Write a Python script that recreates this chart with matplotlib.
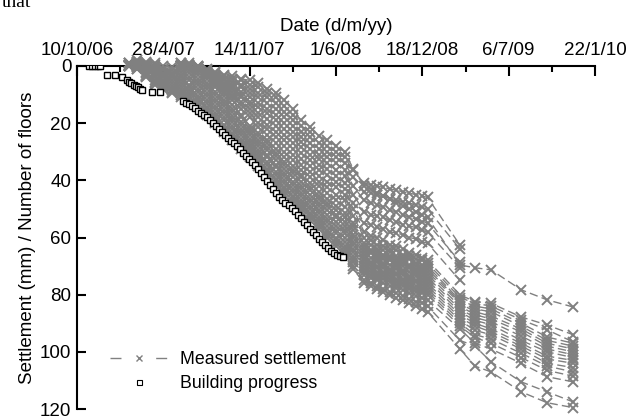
import datetime as dt
import numpy as np
import matplotlib
matplotlib.use('Agg')
import matplotlib.pyplot as plt
from matplotlib.lines import Line2D

plt.rcParams['font.family'] = ['Liberation Sans', 'DejaVu Sans']

# x values are days counted from 10/10/06
start = dt.date(2006, 10, 10)
tick_days = [0, 200, 400, 600, 800, 1000, 1200]
minor_days = [100, 300, 500, 700, 900, 1100]
y_ticks = [0, 20, 40, 60, 80, 100, 120]

# survey dates of the settlement points (days from 10/10/06)
survey_days = [120, 140, 160, 180, 200, 220, 240, 260, 280, 300, 320, 340, 360,
               380, 400, 420, 440, 460, 480, 500, 520, 540, 560, 580, 600, 620, 640,
               665, 680, 695, 710, 725, 740, 755, 770, 785, 800, 812,
               887, 922, 959, 1029, 1089, 1149]

N = None
# settlement (mm) of each point at the survey dates
s01 = [N, N, N, N, N, N, 0, -1, 0, 1, 2, 3, 3.5, 4.5, 5, 6, 8, 9.5, 12, 15, 19, 21.5, 24.5, 26, 28, 30, 36,
       42, 43, 44.5, 45.5, 46.5, 48, 49, 50, 51, 52, 53, 69.6, 70.6, 71.3, 78.3, 81.8, 84.3]
s02 = [N, N, N, N, N, N, 0, -0.5, 0, 1.5, 2.5, 3.5, 4.5, 5, 6.5, 7.5, 9.5, 11, 14, 17, 21, 23, 27, 28, 30, 32, 36.5,
       41, 41.5, 42, 42.5, 43, 43.5, 44, 44.5, 45, 45.5, 46, 62.6, N, N, N, N, N]
s03 = [N, N, N, N, N, N, -1, -0.5, 0.5, 1.5, 3, 4.5, 5.5, 6.5, 8, 9.5, 11, 13, 16, 19, 23, 25, 29, 30, 32, 34, 39,
       44, 44.5, 45, 45.5, 46.5, 47, 47.5, 48, 48.5, 49.5, 50, 64, N, N, N, N, N]
s04 = [N, N, N, N, N, N, 0, 0, 0.5, 2, 3.5, 5, 6.5, 7.5, 9.5, 11, 13, 15, 18, 21, 25, 27, 31, 32, 34, 36.5, 42,
       47, 48, 48.5, 49.5, 50.5, 51, 52, 53, 53.5, 54.5, 55, 68.5, N, N, N, N, N]
s05 = [N, N, N, N, N, N, 0, 0, 0.5, 2, 4, 6, 7.5, 9, 11, 13, 15, 17, 20, 23, 26.5, 29, 32.5, 34, 36.5, 38.5, 45,
       51, 52, 52.5, 53, 54, 54.5, 55.5, 56, 56.5, 57.5, 58, 70.6, N, N, N, N, N]
s06 = [N, N, N, N, N, N, -1, 0, 0.5, 2.5, 4.5, 6.5, 8, 10, 12.5, 14.5, 16.5, 19, 22, 25, 28.5, 31, 34.5, 36, 38.5, 41, 48,
       55, 55.5, 56.5, 57, 58, 58.5, 59, 60, 60.5, 61.5, 62, 75, N, N, N, N, N]
s07 = [N, N, N, N, N, N, 0, 0, 1, 2.5, 5, 7.5, 9, 11, 13.5, 16.5, 18.5, 21, 24, 27, 30.5, 33, 36.5, 38, 40.5, 43, 50,
       58, 59.5, 60, 61, 62.5, 63, 64, 65.5, 66, 67, 68, 80, 82.5, 83, 87.8, 90.6, 94]
s08 = [N, N, N, N, N, N, 0, 0, 1, 3, 5.5, 8, 10, 12.5, 15, 18, 20.5, 23, 26, 29, 32.5, 35, 38.5, 40.5, 42.5, 45, 52.5,
       60, 61, 62.5, 63, 64, 64.5, 66, 66.5, 67.5, 68, 69, 81, 83, 84, 88.8, 92.3, 96.5]
s09 = [N, N, N, N, N, N, 0, 0, 1, 3.5, 6, 9, 11, 13.5, 16.5, 20, 22, 25, 28, 31, 34.5, 37, 40.5, 42.5, 45, 47, 55,
       62, 62.5, 64, 64.5, 65, 66.5, 67, 67.5, 69, 69.5, 70, 82, 84, 85, 90, 94.8, 97]
s10 = [N, N, N, N, N, N, -0.5, 0, 1, 3.5, 6.5, 9.5, 12, 15, 18, 21.5, 24, 27, 30, 33, 36.5, 39, 42, 44.5, 47, 49.5, 56,
       63, 64.5, 65, 66, 66.5, 67.5, 68, 69.5, 70, 70.5, 71, 82.5, 85, 86, 91, 96, 98]
s11 = [-1, -2, -1.5, -1, 0, 0.5, 1, 0.5, 2, 4.5, 7.5, 10.5, 13.5, 17, 21, 23.5, 26, 29, 32, 35, 38, 41, 44, 46.5, 49, 51.5, 57.5,
       64, 65, 66, 66.5, 67.5, 68.5, 69, 70, 71, 71.5, 72, 83, 86, 87.5, 92, 97, 99]
s12 = [-1, -1.5, -1, -0.5, 1, 1.5, 2, 1.5, 3, 6, 9, 12, 15, 18, 22, 24.5, 27, 30.5, 33.5, 36.5, 39, 42.5, 45.5, 48, 50.5, 53, 59,
       65, 65.5, 67, 67.5, 68, 69.5, 70, 70.5, 72, 72.5, 73, 84, 87, 88.5, 93, 98, 100]
s13 = [-1, -1.5, -0.5, 0.5, 1.5, 2.5, 3, 2.5, 4.5, 7, 10, 13, 16, 19.5, 23, 26, 28.5, 31.5, 34.5, 37.5, 40.5, 43.5, 46.5, 49, 52, 54.5, 60,
       66, 67, 67.5, 69, 69.5, 70, 71.5, 72, 72.5, 73.5, 74, 85, 88, 89.5, 94.5, 99, 101]
s14 = [-0.5, -1, 0, 1, 2.5, 3, 4, 4, 5.5, 8, 11.5, 14, 17.5, 20.5, 24, 27, 29.5, 33, 36, 39, 42, 45, 48, 50.5, 53, 56, 61.5,
       67, 68.5, 68.5, 69.5, 71, 71, 72, 73.5, 73.5, 74.5, 75, 86, 89, 90.5, 96, 100, 102]
s15 = [-0.5, -1, 0.5, 2, 3, 4, 5, 5, 6.5, 9.5, 12.5, 15.5, 18.5, 22, 25.5, 28, 31, 34.5, 37.5, 40.5, 43, 46.5, 49, 52, 54.5, 57.5, 62.5,
       68, 69, 70, 70.5, 71.5, 72.5, 73, 74, 75, 75.5, 76, 87, 90, 92, 97, 101.5, 103]
s16 = [-0.5, -0.5, 1, 2.5, 4, 5, 6, 6.5, 8, 10.5, 14, 16.5, 19.5, 23, 26.5, 29.5, 32, 35.5, 38.5, 41.5, 44.5, 47.5, 50.5, 53.5, 56, 58.5, 64,
       69, 70, 70.5, 72, 72.5, 73, 74.5, 75, 75.5, 76.5, 77, 88, 91, 93, 98, 102.5, 104]
s17 = [-0.5, 0, 2, 3.5, 5, 6, 7, 7.5, 9, 12, 15, 18, 21, 24, 27.5, 30.5, 33.5, 37, 40, 43, 45.5, 49, 51.5, 54.5, 57.5, 60, 65,
       70, 71, 72, 72.5, 73.5, 74.5, 75, 76, 77, 77.5, 78, 89, 92.5, 94, 99, 104, 105.5]
s18 = [0, 0, 2.5, 4, 5.5, 7, 8, 8.5, 10.5, 13, 16.5, 19, 22, 25.5, 28.5, 31.5, 34.5, 38, 41, 44, 47, 50, 53, 56, 58.5, 61.5, 66.5,
       71, 72, 73, 73.5, 74.5, 75.5, 76, 77, 78, 78.5, 79, 90, 94, 95.5, 100.5, 105, 107]
s19 = [0, 0.5, 3, 5, 6.5, 8, 9, 9.5, 11.5, 14.5, 17.5, 20.5, 23.5, 26.5, 29.5, 32.5, 36, 39.5, 42.5, 45.5, 48, 51.5, 54, 57.5, 60, 63, 67.5,
       72, 73, 74, 74.5, 75.5, 76.5, 77, 78, 79, 79.5, 80, 91, 95, 97, 102, 106.5, 108.5]
s20 = [0, 0.5, 3.5, 5.5, 7, 8.5, 9.5, 10.5, 12, 15, 18, 21, 24, 27, 30, 33.5, 36.5, 40, 43, 46, 49, 52, 55, 58, 61, 64, 68.5,
       73, 74, 75, 76, 77, 77.5, 78.5, 79.5, 80.5, 81, 82, 92, 97, 99, 104, 108.7, 110.5]
s21 = [0, 1, 3.5, 6, 7.5, 9, 10, 11, 13, 16, 19, 22, 25, 28, 31, 34, 37, 41, 44, 47, 50, 53, 56, 59, 62, 65, 70,
       75, 76, 77, 78, 79, 79.5, 80.5, 81.5, 82.5, 83, 84, 96, 98, 103.5, 110.5, 114, 117.5]
s22 = [0, 1, 4, 6.5, 8, 9.5, 11, 12, 14, 17, 20, 23, 26, 29, 32, 35, 38, 42, 45, 48, 51, 54, 57, 60, 63, 66, 71,
       76, 77, 78, 79, 80, 81, 82, 83, 84, 85, 86, 99, 105, 107, 114, 117.8, 119.5]

settlement = [s01, s02, s03, s04, s05, s06, s07, s08, s09, s10, s11,
              s12, s13, s14, s15, s16, s17, s18, s19, s20, s21, s22]

# building progress (number of floors) and its dates
build_days = [28, 35, 42, 48, 53, 70, 88, 104, 116, 121, 126, 131, 136, 141, 146, 151, 174, 192,
              245, 252, 259, 266, 273, 280, 287, 294, 301, 308, 315, 322, 329, 336, 343, 350,
              357, 364, 371, 378, 385, 392, 399, 406, 413, 420, 427, 434, 441, 448, 455, 462,
              469, 476, 483, 490, 497, 504, 511, 518, 525, 532, 539, 546, 553, 560, 567, 574,
              581, 588, 595, 602, 609, 616]
floors = [0, 0, 0, 0, 0, 3.1, 3, 4, 5, 5.5, 6, 6.5, 7, 7.5, 8, 8.4, 9, 9,
          12.3, 12.8, 13.3, 14, 14.8, 15.6, 16.3, 17, 17.8, 18.8, 19.8, 21, 22, 23.2, 24.3, 25.3,
          26.2, 27, 28, 29.2, 30.3, 31.4, 32.5, 33.7, 34.8, 36, 37.4, 38.8, 40.2, 41.6, 43, 44.5,
          45.8, 46.8, 47.8, 48.8, 49.8, 50.8, 52, 53.3, 54.6, 55.8, 57, 58.2, 59.3, 60.5, 61.6, 62.7,
          63.7, 64.6, 65.3, 66, 66.5, 66.8]

grey = '#808080'

fig = plt.figure(figsize=(6.29, 4.16), dpi=100)
ax = fig.add_axes([77/629, 1-409/416, 518/629, 343/416])

x = np.array(survey_days, dtype=float)
for s in settlement:
    ax.plot(x, np.array(s, dtype=float), color=grey, lw=1, dashes=(6, 3),
            marker='x', ms=7, mew=1.4, zorder=2, clip_on=False)

ax.plot(build_days, floors, ls='none', marker='s', ms=4, mfc='white', mec='black',
        mew=1, zorder=3)

ax.set_xlim(0, 1200)
ax.set_ylim(120, 0)
ax.xaxis.tick_top()
ax.xaxis.set_label_position('top')
ax.set_xticks(tick_days)
ax.set_xticklabels([f"{d.day}/{d.month}/{d:%y}" for d in
                    (start + dt.timedelta(days=t) for t in tick_days)])
ax.set_xticks(minor_days, minor=True)
ax.set_yticks(y_ticks)

for side in ['right', 'bottom']:
    ax.spines[side].set_visible(False)
for side in ['left', 'top']:
    ax.spines[side].set_linewidth(1.5)
    ax.spines[side].set_zorder(1)

ax.tick_params(axis='x', which='major', direction='in', length=7, width=1.5,
               labelsize=13.5, pad=5)
ax.tick_params(axis='x', which='minor', direction='in', length=4.5, width=1.5)
ax.tick_params(axis='y', direction='in', length=6.5, width=1.5, labelsize=13.5, pad=4)

ax.set_xlabel('Date (d/m/yy)', fontsize=13.5, labelpad=8)
ax.set_ylabel('Settlement (mm) / Number of floors', fontsize=13.5, labelpad=3)

h1 = Line2D([], [], color=grey, lw=1, dashes=(7.9, 25), marker='x', ms=5, mew=1)
h2 = Line2D([], [], ls='none', marker='s', ms=3.6, mfc='white', mec='black', mew=0.8)
ax.legend([h1, h2], ['Measured settlement', 'Building progress'], loc='lower left',
          bbox_to_anchor=(0.064, 0.05), frameon=False, fontsize=12.8, borderpad=0,
          borderaxespad=0, handlelength=3.26, handletextpad=0.65, labelspacing=0.4,
          numpoints=1)

fig.text(0.003, 1 - 7/416, 'that', family='Liberation Serif', fontsize=14, va='baseline')

fig.savefig('out.png', dpi=100)
